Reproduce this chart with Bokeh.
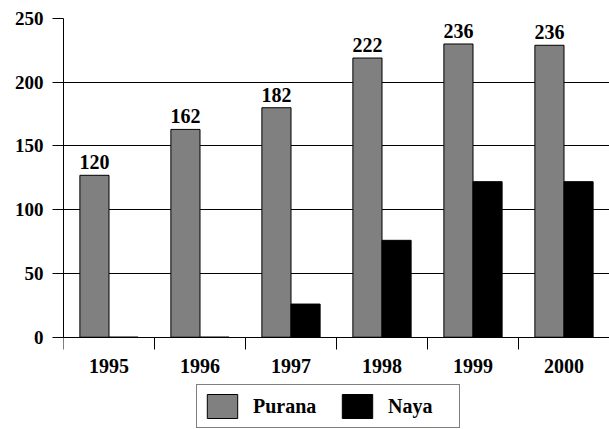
from bokeh.plotting import figure
from bokeh.models import ColumnDataSource, Range1d, FixedTicker, Legend, LegendItem
from bokeh.transform import dodge
from bokeh.core.properties import value
from bokeh.embed import file_html
from bokeh.resources import INLINE

# ---- data ----
years = ["1995", "1996", "1997", "1998", "1999", "2000"]
purana = [127, 163, 180, 219, 230, 229]
naya = [0, 0, 26, 76, 122, 122]
purana_labels = ["120", "162", "182", "222", "236", "236"]
y_ticks = [0, 50, 100, 150, 200, 250]

idx = list(range(len(years)))
src = ColumnDataSource(dict(idx=idx, purana=purana, naya=naya, plabel=purana_labels))

FONT = "Liberation Serif"

# frame runs to the bottom of the figure; the region below 0 holds the
# x-axis labels and the legend
p = figure(width=609, height=429, output_backend="svg", toolbar_location=None,
           x_range=Range1d(-0.5, len(years) - 0.5), y_range=Range1d(-72.4, 250),
           min_border_left=63, min_border_right=0, min_border_top=18, min_border_bottom=0)
p.outline_line_color = None
p.background_fill_color = "white"
p.border_fill_color = "white"

bw = 0.32
r1 = p.vbar(x=dodge("idx", -bw / 2, range=p.x_range), top="purana", width=bw, source=src,
            fill_color="#808080", line_color="black", line_width=1)
r2 = p.vbar(x=dodge("idx", bw / 2, range=p.x_range), top="naya", width=bw, source=src,
            fill_color="black", line_color="black", line_width=1)

p.text(x=dodge("idx", -bw / 2, range=p.x_range), y="purana", text="plabel", source=src,
       text_align="center", text_baseline="bottom", y_offset=-6,
       text_font=value(FONT), text_font_style="bold", text_font_size="20px", text_color="black")

# grid
p.xgrid.grid_line_color = None
p.ygrid.grid_line_color = "black"
p.ygrid.grid_line_width = 1
p.ygrid.ticker = FixedTicker(ticks=y_ticks)

# y axis
p.yaxis.ticker = FixedTicker(ticks=y_ticks)
p.yaxis.bounds = (0, 250)
p.yaxis.axis_line_color = "black"
p.yaxis.major_tick_out = 11
p.yaxis.major_tick_in = 0
p.yaxis.minor_tick_line_color = None
p.yaxis.major_label_standoff = 9
p.yaxis.major_label_text_font = FONT
p.yaxis.major_label_text_font_style = "bold"
p.yaxis.major_label_text_font_size = "19px"
p.yaxis.major_label_text_color = "black"

# x axis at y=0: labels at group centres, ticks at group boundaries
p.xaxis.fixed_location = 0
p.xaxis.ticker = FixedTicker(ticks=idx, minor_ticks=[i - 0.5 for i in range(len(years) + 1)])
p.xaxis.major_label_overrides = {i: y for i, y in zip(idx, years)}
p.xaxis.axis_line_color = "black"
p.xaxis.major_tick_out = 0
p.xaxis.major_tick_in = 0
p.xaxis.minor_tick_out = 12
p.xaxis.minor_tick_in = 0
p.xaxis.minor_tick_line_color = "black"
p.xaxis.major_label_standoff = 10
p.xaxis.major_label_text_font = FONT
p.xaxis.major_label_text_font_style = "bold"
p.xaxis.major_label_text_font_size = "20px"
p.xaxis.major_label_text_color = "black"

legend = Legend(items=[LegendItem(label="Purana", renderers=[r1]),
                       LegendItem(label="Naya", renderers=[r2])],
                orientation="horizontal", location=(133, 1),
                glyph_width=38, glyph_height=30, label_standoff=12, spacing=20,
                label_width=65, padding=6, margin=0,
                border_line_color="black", border_line_width=1.5,
                label_text_font=FONT, label_text_font_style="bold",
                label_text_font_size="20px", label_text_color="black",
                background_fill_color="white")
p.add_layout(legend, "center")

open("out.html", "w").write(file_html(p, INLINE))
